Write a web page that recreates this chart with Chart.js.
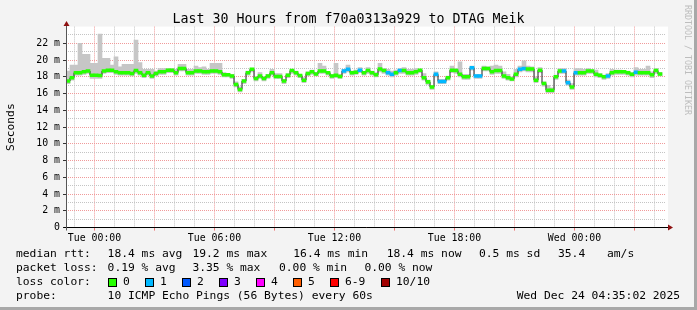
<!DOCTYPE html>
<html>
<head>
<meta charset="utf-8">
<script src="https://cdn.jsdelivr.net/npm/chart.js@4.4.1/dist/chart.umd.min.js"></script>
<style>
  html, body { margin: 0; padding: 0; background: #f3f3f3; }
  #frame { position: relative; width: 697px; height: 310px; overflow: hidden; background: #f3f3f3;
           font-family: 'DejaVu Sans Mono', monospace; color: #000; }
  #frame canvas { position: absolute; left: 0; top: 0; }
  .txt { position: absolute; white-space: pre; font-size: 11.3px; line-height: 14px; }
  #title { position: absolute; left: 0; top: 11px; width: 697px; text-align: center; white-space: pre;
           font-size: 13.3px; line-height: 16px; }
  #mark { position: absolute; left: 693px; top: 5px; transform-origin: 0 0; transform: rotate(90deg);
          font-size: 8.3px; line-height: 10px; color: #bdbdbd; white-space: pre; }
  .sq { position: absolute; width: 7px; height: 7px; border: 1px solid #000; }
  #edgeR { position: absolute; right: 0; top: 0; width: 3px; height: 310px; background: #a8a8a8; }
  #edgeB { position: absolute; left: 0; bottom: 0; width: 697px; height: 3px; background: #a8a8a8; }
</style>
</head>
<body>
<div id="frame">
  <canvas id="smokeChart" width="697" height="310"></canvas>
  <div id="title"></div>
  <div id="mark">RRDTOOL / TOBI OETIKER</div>
  <div id="legend"></div>
  <div id="edgeR"></div>
  <div id="edgeB"></div>
</div>
<script>
// time axis: hours relative to Tue 00:00, one rrd row = 12 minutes
const startHour = -1.425;
const spanHours = 30;
const stepHours = 0.2;

// median rtt per row (ms)
const rttMedian = [
  17.5, 17.9, 18.5, 18.5, 18.6, 18.7, 18.2, 18.2, 18.15, 18.7, 18.8, 18.8, 18.6, 18.5, 18.5, 18.5, 18.4, 18.75, 18.5, 18.2,
  18.5, 18.1, 18.4, 18.6, 18.6, 18.8, 18.8, 18.5, 19.0, 19.0, 18.5, 18.5, 18.7, 18.7, 18.6, 18.6, 18.7, 18.7,
  18.6, 18.25, 18.25, 18.1, 17.1, 16.5, 17.5, 18.5, 18.9, 17.8, 18.1, 17.8, 18.1, 18.5, 18.05, 18.05, 17.5, 18.2, 18.75, 18.5,
  18.15, 17.6, 18.4, 18.6, 18.35, 18.7, 18.7, 18.5, 18.1, 18.2, 18.05, 18.7, 18.9, 18.5, 18.55, 18.8, 18.5,
  18.75, 18.5, 18.25, 18.95, 18.75, 18.5, 18.3, 18.5, 18.75, 18.75, 18.5, 18.5, 18.6, 18.8, 17.9, 17.4, 16.8, 18.3, 17.45, 17.45,
  17.9, 18.8, 18.75, 18.3, 18.0, 18.0, 19.1, 18.1, 18.1, 19.0, 19.0, 18.6, 18.75, 18.75, 18.1, 17.9, 17.75, 18.3,
  18.9, 19.0, 18.95, 18.95, 17.6, 18.8, 17.2, 16.4, 16.4, 18.0, 18.7, 18.7, 17.3, 16.8, 18.5, 18.5, 18.5, 18.7, 18.7, 18.3,
  18.2, 18.0, 18.1, 18.5, 18.6, 18.6, 18.6, 18.5, 18.3, 18.55, 18.5, 18.5, 18.5, 18.25, 18.75, 18.35, null
];

// smoke: highest and lowest ping per row (ms)
const rttMax = [
  18.7, 19.4, 19.4, 22.0, 20.7, 20.7, 19.6, 19.6, 23.1, 20.2, 20.2, 19.4, 20.4, 19.2, 19.5, 19.5, 19.5, 22.4, 19.7, 18.9,
  18.9, 18.9, 18.7, 19.0, 19.0, 19.0, 19.0, 18.9, 19.5, 19.5, 18.9, 18.9, 19.3, 19.1, 19.2, 18.9, 19.6, 19.6,
  19.6, 18.5, 18.4, 18.3, 17.4, 16.8, 17.7, 18.7, 19.0, 18.0, 18.5, 18.0, 18.3, 18.9, 18.4, 18.4, 17.7, 18.4, 18.9, 18.7,
  18.3, 17.9, 18.6, 18.8, 18.5, 19.6, 19.3, 18.6, 18.3, 19.6, 18.3, 18.9, 19.4, 18.7, 18.8, 19.1, 18.6,
  19.1, 18.7, 18.5, 19.6, 19.0, 18.9, 18.7, 18.8, 19.0, 19.1, 18.9, 18.9, 19.0, 18.9, 18.4, 17.6, 17.0, 18.6, 17.7, 17.7,
  18.1, 19.3, 19.0, 19.8, 18.3, 18.3, 19.3, 18.3, 18.3, 19.3, 19.2, 19.3, 19.4, 19.3, 18.6, 18.3, 18.0, 18.9,
  19.3, 19.9, 19.3, 19.2, 18.0, 19.1, 17.4, 17.0, 16.7, 18.2, 19.0, 19.0, 17.6, 17.2, 19.0, 19.0, 18.9, 19.0, 18.8, 18.8,
  18.4, 18.2, 18.4, 18.9, 18.8, 18.8, 18.7, 18.7, 18.5, 19.1, 18.9, 18.9, 19.3, 18.6, 19.0, 18.5, null
];
const rttMin = [
  17.2, 17.6, 18.2, 18.2, 18.3, 18.4, 17.8, 17.8, 17.8, 18.4, 18.5, 18.5, 18.3, 18.2, 18.2, 18.2, 18.1, 18.4, 18.2, 17.9,
  18.2, 17.8, 18.1, 18.3, 18.3, 18.5, 18.5, 18.2, 18.7, 18.7, 18.2, 18.2, 18.4, 18.4, 18.3, 18.3, 18.4, 18.4,
  18.3, 18.0, 18.0, 17.8, 16.8, 16.2, 17.2, 18.2, 18.6, 17.5, 17.8, 17.5, 17.8, 18.2, 17.8, 17.8, 17.2, 17.9, 18.4, 18.2,
  17.9, 17.3, 18.1, 18.3, 18.1, 18.4, 18.4, 18.2, 17.8, 17.9, 17.8, 18.4, 18.6, 18.2, 18.3, 18.5, 18.2,
  18.4, 18.2, 18.0, 18.6, 18.4, 18.2, 18.0, 18.2, 18.4, 18.4, 18.2, 18.2, 18.3, 18.5, 17.6, 17.1, 16.5, 18.0, 17.2, 17.2,
  17.6, 18.5, 18.4, 18.0, 17.7, 17.7, 18.8, 17.8, 17.8, 18.7, 18.7, 18.3, 18.4, 18.4, 17.8, 17.6, 17.5, 18.0,
  18.6, 18.7, 18.6, 18.6, 17.3, 18.5, 16.9, 16.1, 16.1, 17.7, 18.4, 18.4, 17.0, 16.5, 18.2, 18.2, 18.2, 18.4, 18.4, 18.0,
  17.9, 17.7, 17.8, 18.2, 18.3, 18.3, 18.3, 18.2, 18.0, 18.2, 18.2, 18.2, 18.2, 17.9, 18.4, 18.1, null
];

// lost pings (of 10) per row
const lostPings = [
  0, 0, 0, 0, 0, 0, 0, 0, 0, 0,  0, 0, 0, 0, 0, 0, 0, 0, 0, 0,  0, 0, 0, 0, 0, 0, 0, 0, 0, 0,
  0, 0, 0, 0, 0, 0, 0, 0, 0, 0,  0, 0, 0, 0, 0, 0, 0, 0, 0, 0,  0, 0, 0, 0, 0, 0, 0, 0, 0, 0,
  0, 0, 0, 0, 0, 0, 0, 0, 0, 1,  1, 0, 0, 1, 0, 0, 0, 0, 0, 0,  1, 1, 0, 1, 0, 0, 0, 0, 0, 0,
  0, 0, 1, 1, 1, 0, 0, 0, 0, 0,  0, 1, 1, 1, 0, 0, 0, 0, 0, 0,  0, 0, 0, 1, 1, 0, 0, 0, 0, 0,
  0, 0, 0, 0, 1, 1, 0, 1, 0, 0,  0, 0, 0, 0, 0, 1, 0, 0, 0, 0,  0, 0, 1, 0, 0, 0, 0, 0, 0, 0
];

const lossLabels = ['0', '1', '2', '3', '4', '5', '6-9', '10/10'];
const lossColors = ['#26ff00', '#00b8ff', '#0059ff', '#7e00ff', '#ff00ff', '#ff5e00', '#ff0000', '#a10000'];

const tickHours = [0, 6, 12, 18, 24];
const tickLabels = ['Tue 00:00', 'Tue 06:00', 'Tue 12:00', 'Tue 18:00', 'Wed 00:00'];

const titleText = 'Last 30 Hours from f70a0313a929 to DTAG Meik';
const rttStats = ['18.4 ms avg', '19.2 ms max', '16.4 ms min', '18.4 ms now', '0.5 ms sd', '35.4', 'am/s'];
const lossStats = ['0.19 % avg', '3.35 % max', '0.00 % min', '0.00 % now'];
const probeText = '10 ICMP Echo Pings (56 Bytes) every 60s';
const stampText = 'Wed Dec 24 04:35:02 2025';

const majorGrid = '#f09a9a';
const minorGrid = '#c4c4c4';
const bandHalf = 0.17;   // half thickness of the median band, in ms

function lossIndex(n) {
  if (n >= 10) return 7;
  if (n >= 6) return 6;
  return n;
}

const times = rttMedian.map((_, i) => startHour + (i + 0.5) * stepHours);

const smokeData = [];
const bandData = [];
const lineData = [];
times.forEach((x, i) => {
  lineData.push({x: x, y: rttMedian[i]});
  if (rttMedian[i] == null) return;
  smokeData.push({x: x, y: [rttMin[i], rttMax[i]]});
  bandData.push({x: x, y: [rttMedian[i] - bandHalf, rttMedian[i] + bandHalf], loss: lostPings[i]});
});

const hourTicks = [];
for (let h = Math.ceil(startHour); h <= startHour + spanHours; h++) hourTicks.push(h);
const rttTicks = [];
for (let v = 0; v < 24; v++) rttTicks.push(v);

function crisp(p) {
  return Math.round(p - 0.5) + 0.5;
}

// white plot area, dotted rrd grid, axis lines and arrows
const rrdFrame = {
  id: 'rrdFrame',
  beforeDraw(chart) {
    const {ctx, chartArea: a} = chart;
    ctx.save();
    ctx.fillStyle = '#ffffff';
    ctx.fillRect(a.left, a.top, a.right - a.left + 2, a.bottom - a.top);
    ctx.restore();
  },
  beforeDatasetsDraw(chart) {
    const {ctx, chartArea: a, scales} = chart;
    ctx.save();
    ctx.lineWidth = 1;
    ctx.setLineDash([1, 1]);
    hourTicks.forEach(h => {
      const px = crisp(scales.x.getPixelForValue(h));
      ctx.strokeStyle = h % 3 === 0 ? majorGrid : minorGrid;
      ctx.beginPath();
      ctx.moveTo(px, a.top);
      ctx.lineTo(px, a.bottom);
      ctx.stroke();
    });
    rttTicks.forEach(v => {
      const py = crisp(scales.y.getPixelForValue(v));
      ctx.strokeStyle = v % 2 === 0 ? majorGrid : minorGrid;
      ctx.beginPath();
      ctx.moveTo(a.left, py);
      ctx.lineTo(a.right, py);
      ctx.stroke();
    });
    ctx.restore();
  },
  afterDraw(chart) {
    const {ctx, chartArea: a} = chart;
    const x0 = Math.round(a.left) + 0.5;
    const y0 = Math.round(a.bottom) - 0.5;
    ctx.save();
    ctx.lineWidth = 1;
    ctx.strokeStyle = '#000';
    ctx.beginPath();
    ctx.moveTo(x0 - 3, y0);
    ctx.lineTo(a.right + 4, y0);
    ctx.stroke();
    ctx.strokeStyle = '#555';
    ctx.beginPath();
    ctx.moveTo(x0, y0 + 3);
    ctx.lineTo(x0, a.top - 3);
    ctx.stroke();
    ctx.fillStyle = '#8e1010';
    ctx.beginPath();
    ctx.moveTo(a.right + 2, y0 - 3);
    ctx.lineTo(a.right + 7, y0);
    ctx.lineTo(a.right + 2, y0 + 3);
    ctx.closePath();
    ctx.fill();
    ctx.beginPath();
    ctx.moveTo(x0 - 3, a.top - 0.5);
    ctx.lineTo(x0, a.top - 5.5);
    ctx.lineTo(x0 + 3, a.top - 0.5);
    ctx.closePath();
    ctx.fill();
    ctx.restore();
  }
};

const axisFont = {family: 'DejaVu Sans Mono', size: 9.9};

new Chart(document.getElementById('smokeChart').getContext('2d'), {
  type: 'bar',
  data: {
    datasets: [
      {
        type: 'bar', label: 'smoke', data: smokeData, order: 3, grouped: false,
        backgroundColor: '#c6c6c6', borderWidth: 0, barPercentage: 1, categoryPercentage: 1
      },
      {
        type: 'line', label: 'median', data: lineData, order: 2, stepped: 'middle',
        borderColor: '#202020', borderWidth: 1, pointRadius: 0, spanGaps: false
      },
      {
        type: 'bar', label: 'loss', data: bandData, order: 1, grouped: false,
        backgroundColor: ctx => lossColors[lossIndex(ctx.raw ? ctx.raw.loss : 0)],
        borderWidth: 0, barPercentage: 1, categoryPercentage: 1
      }
    ]
  },
  options: {
    responsive: false,
    animation: false,
    devicePixelRatio: 1,
    layout: {padding: {left: 0, right: 31, top: 26.6, bottom: 0}},
    plugins: {legend: {display: false}, tooltip: {enabled: false}, title: {display: false}},
    scales: {
      x: {
        type: 'linear', min: startHour, max: startHour + spanHours, offset: false,
        afterBuildTicks: s => { s.ticks = hourTicks.map(v => ({value: v})); },
        afterFit: s => { s.height = 82.4; },
        grid: {
          offset: false, drawOnChartArea: false, lineWidth: 1, tickLength: 3,
          tickColor: c => (c.tick && c.tick.value % 3 === 0) ? 'rgba(235,40,40,0.6)' : 'rgba(0,0,0,0)'
        },
        border: {display: false},
        ticks: {
          autoSkip: false, maxRotation: 0, padding: 2, color: '#000', font: axisFont,
          callback: v => { const k = tickHours.indexOf(v); return k >= 0 ? tickLabels[k] : ''; }
        }
      },
      y: {
        min: 0, max: 24,
        afterBuildTicks: s => { s.ticks = rttTicks.map(v => ({value: v})); },
        afterFit: s => { s.width = 66; },
        grid: {
          drawOnChartArea: false, lineWidth: 1, tickLength: 3,
          tickColor: c => (c.tick && c.tick.value % 2 === 0) ? '#333' : 'rgba(0,0,0,0)'
        },
        border: {display: false},
        ticks: {
          padding: 3, color: '#000', font: axisFont,
          callback: v => v % 2 !== 0 ? '' : (v === 0 ? '0' : v + ' m')
        },
        title: {
          display: true, text: 'Seconds', color: '#000',
          font: {family: 'DejaVu Sans Mono', size: 11.3}, padding: {top: 4, bottom: 4}
        }
      }
    }
  },
  plugins: [rrdFrame]
});

// title and rrd style legend below the graph
document.getElementById('title').textContent = titleText;
const legend = document.getElementById('legend');
function put(text, left, top) {
  const s = document.createElement('span');
  s.className = 'txt';
  s.textContent = text;
  s.style.left = left + 'px';
  s.style.top = top + 'px';
  legend.appendChild(s);
  return s;
}
put('median rtt:', 16, 247);
[107.6, 192.4, 293.3, 386.7, 479, 558, 607].forEach((x, i) => put(rttStats[i], x, 247));
put('packet loss:', 16, 261);
[107.6, 192.4, 279, 364.4].forEach((x, i) => put(lossStats[i], x, 261));
put('loss color:', 16, 275);
[108, 145, 182, 219, 256, 293, 330, 381].forEach((x, i) => {
  const sq = document.createElement('div');
  sq.className = 'sq';
  sq.style.left = x + 'px';
  sq.style.top = '278px';
  sq.style.background = lossColors[i];
  legend.appendChild(sq);
  put(lossLabels[i], x + 15, 275);
});
put('probe:', 16, 289);
put(probeText, 107.6, 289);
const stamp = put(stampText, 0, 289);
stamp.style.left = 'auto';
stamp.style.right = '17px';
</script>
</body>
</html>
